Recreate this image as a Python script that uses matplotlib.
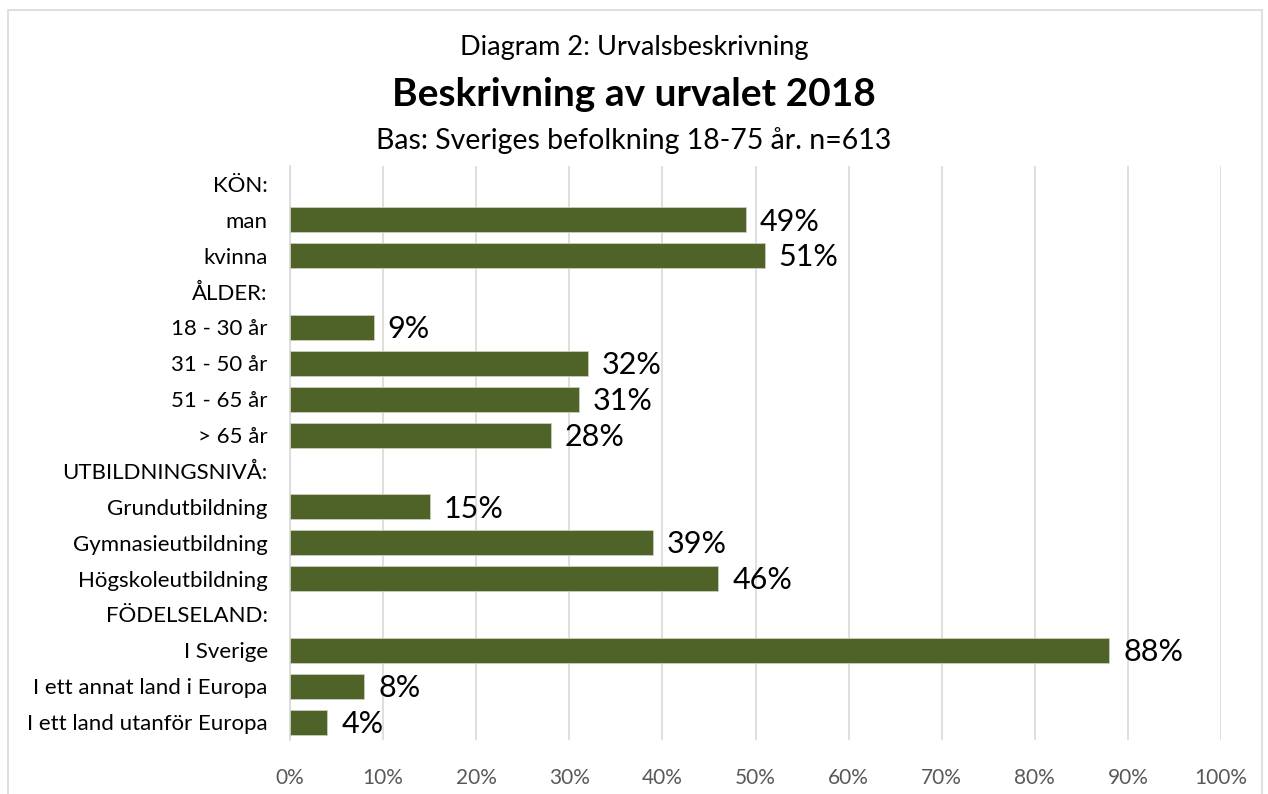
import matplotlib
matplotlib.use("Agg")
import matplotlib.pyplot as plt
import numpy as np

plt.rcParams['font.family'] = ['Lato', 'DejaVu Sans']

categories = ['KÖN:', 'man', 'kvinna', 'ÅLDER:', '18 - 30 år', '31 - 50 år', '51 - 65 år',
              '> 65 år', 'UTBILDNINGSNIVÅ:', 'Grundutbildning', 'Gymnasieutbildning',
              'Högskoleutbildning', 'FÖDELSELAND:', 'I Sverige', 'I ett annat land i Europa',
              'I ett land utanför Europa']
values = [None, 49, 51, None, 9, 32, 31, 28, None, 15, 39, 46, None, 88, 8, 4]
xticks = [0, 10, 20, 30, 40, 50, 60, 70, 80, 90, 100]

bar_color = '#4f6228'

fig = plt.figure(figsize=(12.68, 7.94), dpi=100)
ax = fig.add_axes([290 / 1268, 1 - 740 / 794, (1221 - 290) / 1268, (740 - 166) / 794])

# chart border
fig.patches.append(plt.Rectangle((8 / 1268, -0.01), 1254 / 1268, 1 - 10 / 794 + 0.01,
                                 transform=fig.transFigure, fill=False,
                                 edgecolor='#d9d9d9', linewidth=1.2))

y = np.arange(len(categories))
for i, v in enumerate(values):
    if v is None:
        continue
    ax.barh(y[i], v, height=0.7, color=bar_color, edgecolor='#c8d0b8', linewidth=0.6, zorder=3)
    ax.text(v + 1.5, y[i] + 0.05, f'{v}%', va='center', ha='left', fontsize=22, color='black')

ax.set_xlim(0, 100)
ax.set_ylim(len(categories) - 0.5, -0.5)
ax.set_yticks(y)
ax.set_yticklabels(categories, fontsize=16)
ax.set_xticks(xticks)
ax.set_xticklabels([f'{t}%' for t in xticks], fontsize=15, color='#595959')
ax.tick_params(axis='y', length=0, pad=16)
ax.tick_params(axis='x', length=0, pad=20)
ax.grid(axis='x', color='#d9d9d9', linewidth=1.2, zorder=0)
for s in ['top', 'right', 'bottom']:
    ax.spines[s].set_visible(False)
ax.spines['left'].set_color('#d9d9d9')
ax.spines['left'].set_linewidth(1.2)

fig.text(0.5, 1 - 47 / 794, 'Diagram 2: Urvalsbeskrivning', ha='center', va='center', fontsize=19.5)
fig.text(0.5, 1 - 95 / 794, 'Beskrivning av urvalet 2018', ha='center', va='center',
         fontsize=28, fontweight='bold')
fig.text(0.5, 1 - 141 / 794, 'Bas: Sveriges befolkning 18-75 år. n=613', ha='center',
         va='center', fontsize=20.5)

fig.savefig('out.png', dpi=100)
